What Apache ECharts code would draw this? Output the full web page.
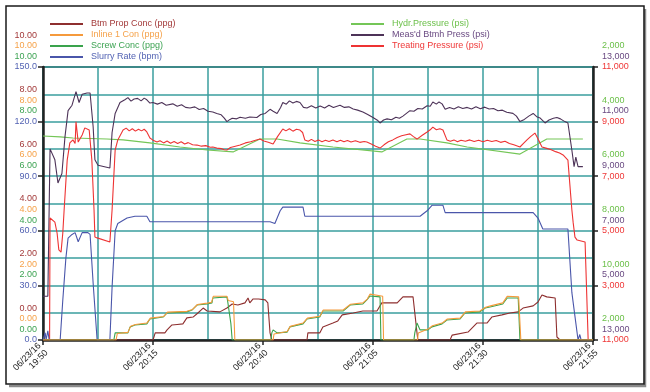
<!DOCTYPE html>
<html><head><meta charset="utf-8">
<script src="https://cdn.jsdelivr.net/npm/echarts@6/dist/echarts.min.js"></script>
<style>html,body{margin:0;padding:0;background:#fff}#c{width:650px;height:392px}</style>
</head><body><div id="c"></div>
<script>
// ---- data (time = minutes after 06/23/16 19:50) ----
const xDates = ['06/23/16','06/23/16','06/23/16','06/23/16','06/23/16','06/23/16'];
const xTimes = ['19:50','20:15','20:40','21:05','21:30','21:55'];

const ppgLabels = ['0.00','2.00','4.00','6.00','8.00','10.00'];
const bpmLabels = ['0.0','30.0','60.0','90.0','120.0','150.0'];
const hydrLabels = ['2,000','10,000','8,000','6,000','4,000','2,000'];
const btmhLabels = ['13,000','5,000','7,000','9,000','11,000','13,000'];
const treatLabels = ['11,000','3,000','5,000','7,000','9,000','11,000'];

const btmPropConc = [[0,0],[25.0,0],[25.5,0.26],[27.7,0.26],[28.2,0.37],[29.3,0.55],[30.5,0.57],[31.8,0.59],[32.7,0.81],[34.1,0.84],[35.2,0.99],[36.4,1.17],[37.3,1.06],[40.2,1.03],[41.8,1.17],[43.0,1.32],[44.3,1.28],[45.9,1.36],[46.6,1.54],[47.0,1.36],[47.7,1.50],[49.0,1.50],[50.5,1.47],[51.1,1.36],[51.6,0.26],[52.0,0],[60.0,0],[60.2,0.26],[62.9,0.26],[63.6,0.48],[65.9,0.62],[67.0,0.70],[68.0,0.92],[70.5,0.99],[72.7,1.06],[75.9,1.06],[77.0,1.36],[80.5,1.36],[81.8,1.58],[84.1,1.58],[85.0,0.26],[85.2,0],[92.5,0],[93.0,0.18],[96.6,0.29],[98.6,0.62],[100.9,0.62],[102.0,0.84],[104.3,0.92],[106.1,0.99],[108.0,1.03],[109.1,1.17],[111.4,1.25],[112.5,1.39],[113.4,1.65],[114.5,1.58],[116.4,1.54],[116.8,0.11],[117.5,0],[125,0]];
const inline1Con = [[0,0],[16.6,0],[16.9,0.24],[19.3,0.28],[19.9,0.5],[21.0,0.57],[23.6,0.62],[24.4,0.8],[27.4,0.86],[28.3,1.02],[32.7,1.05],[34.0,1.12],[35.1,1.3],[37.3,1.35],[38.3,1.38],[38.7,1.6],[41.8,1.6],[42.1,1.45],[43.3,1.4],[43.6,0],[52.3,0],[52.5,0.22],[55.5,0.31],[56.2,0.5],[59.1,0.62],[60.1,0.8],[62.9,0.87],[63.7,1.1],[68.2,1.1],[69.9,1.31],[72.7,1.36],[73.7,1.5],[74.3,1.68],[76.6,1.62],[77.2,1.6],[77.4,0],[85.1,0],[85.3,0.26],[87.5,0.4],[88.5,0.52],[90.7,0.62],[91.9,0.77],[94.8,0.8],[96.0,1.03],[99.3,1.06],[100.6,1.2],[101.7,1.25],[104.5,1.36],[105.5,1.6],[108.1,1.58],[108.6,0],[125,0]];
const screwConc = [[0,0],[16.1,0],[16.4,0.26],[19.3,0.26],[19.8,0.48],[20.9,0.55],[23.6,0.59],[24.3,0.77],[27.3,0.84],[28.2,0.99],[32.7,1.03],[33.9,1.10],[35.0,1.28],[37.3,1.32],[38.4,1.36],[38.6,1.54],[41.8,1.58],[42.0,1.39],[42.7,0.6],[43.0,0],[51.8,0],[52.0,0.26],[52.3,0.37],[53.2,0.26],[55.5,0.29],[56.1,0.48],[59.1,0.59],[60.0,0.77],[62.9,0.84],[63.6,1.06],[68.2,1.06],[69.8,1.28],[72.7,1.32],[73.6,1.47],[74.3,1.61],[76.6,1.58],[76.8,0],[84.3,0],[84.5,0.26],[85.0,0.62],[85.7,0.37],[87.5,0.37],[88.4,0.48],[90.7,0.59],[91.8,0.73],[94.8,0.77],[95.9,0.99],[99.3,1.03],[100.5,1.17],[101.6,1.21],[104.5,1.32],[105.5,1.54],[108.0,1.54],[108.4,0],[125,0]];
const slurryRate = [[0,0],[0.5,4],[0.7,0],[1.1,5],[1.4,0],[3.9,0],[4.5,22],[5.2,45],[5.7,56],[6.6,58],[7.3,59],[8.0,54],[8.9,59],[10.2,59],[10.7,58],[11.4,31],[12.3,0],[15.2,0],[15.7,29],[16.4,60],[17.0,64],[19.1,67],[20.9,68],[23.6,68],[24.3,65],[51.6,65],[52.7,64],[53.9,71],[54.5,73],[59.1,73],[59.5,68],[85.7,68],[87.3,71],[88.4,74],[90.9,74],[91.4,70],[111.4,70],[112.5,67],[113.6,61],[119.3,61],[120.2,26],[120.9,13],[121.6,0],[122.0,3],[122.3,0],[125,0]];
const hydrPressure = [[0,4530],[3.9,4560],[6.8,4600],[14.5,4640],[18.2,4670],[24.3,4780],[31.1,4930],[37.3,5040],[43.2,5110],[49.3,4640],[53.2,4640],[58.4,4780],[65.9,4930],[77.0,5110],[82.7,4640],[85.7,4640],[91.8,4780],[96.4,4930],[108.4,5190],[114.5,4640],[122.7,4640]];
const btmhPress = [[0,4600],[1.1,4600],[1.6,10000],[2.0,10000],[2.7,9600],[3.4,8750],[4.3,9100],[5.0,10450],[5.7,11400],[6.6,11600],[7.5,12100],[8.2,11700],[8.9,12000],[10.0,12050],[10.7,12050],[11.4,10800],[11.8,9600],[12.5,9400],[15.2,9300],[15.7,10600],[16.4,11300],[17.5,11700],[18.6,11800],[19.3,11880],[20.0,11750],[20.7,11830],[21.5,11850],[22.3,11760],[23.0,11860],[23.6,11800],[24.3,11680],[25.0,11700],[26.0,11640],[27.0,11700],[28.0,11600],[29.5,11650],[30.5,11560],[31.5,11620],[32.4,11520],[33.4,11500],[34.5,11540],[35.5,11440],[36.5,11480],[37.5,11380],[38.6,11350],[39.5,11300],[40.5,11250],[41.2,11130],[41.8,11000],[42.5,11080],[43.0,11120],[44.0,11100],[44.8,11160],[46.0,11120],[47.0,11170],[48.6,11150],[49.5,11260],[50.5,11300],[51.6,11450],[52.3,11380],[53.2,11300],[54.0,11520],[54.5,11700],[55.3,11640],[56.0,11760],[56.8,11680],[57.6,11740],[58.4,11700],[59.2,11520],[60.0,11500],[61.0,11580],[62.0,11500],[63.0,11570],[64.0,11500],[65.0,11600],[66.0,11520],[67.5,11600],[68.5,11520],[69.5,11540],[70.5,11460],[71.5,11420],[72.7,11350],[73.8,11260],[75.0,11150],[76.0,11050],[76.6,10950],[77.4,11060],[78.2,11100],[79.2,11070],[80.2,11160],[81.0,11120],[81.8,11200],[82.6,11300],[83.4,11400],[84.3,11380],[85.2,11480],[86.2,11460],[87.3,11580],[88.0,11560],[88.6,11720],[89.4,11640],[90.0,11720],[90.7,11650],[91.4,11450],[92.4,11520],[93.4,11460],[94.4,11540],[95.4,11480],[96.4,11520],[97.4,11460],[98.4,11540],[99.4,11470],[100.4,11530],[101.4,11460],[102.4,11480],[103.4,11400],[104.4,11420],[105.4,11340],[106.8,11300],[107.6,11200],[108.4,11000],[109.4,11080],[110.4,11200],[111.4,11300],[112.2,11180],[113.0,11130],[114.1,10950],[115.0,11060],[116.0,11120],[116.8,11150],[117.6,11100],[118.6,11000],[119.3,10950],[120.2,9950],[120.7,9350],[121.1,9700],[121.6,9350],[122.7,9350]];
const treatingPressure = [[0,1000],[1.5,1000],[1.6,5470],[2.0,5470],[2.7,5320],[3.2,4920],[3.6,4300],[4.1,4220],[4.5,4920],[4.8,5760],[5.5,7590],[6.1,8220],[6.8,8330],[7.3,8200],[7.5,8990],[8.0,8250],[8.9,8510],[9.5,8770],[10.5,8690],[11.1,7590],[11.6,5760],[11.8,4770],[12.3,4740],[15.2,4590],[15.6,4600],[15.7,5760],[16.4,7960],[17.0,8330],[18.2,8690],[18.9,8760],[19.6,8660],[20.3,8740],[21.0,8650],[21.7,8720],[22.4,8660],[23.0,8720],[23.6,8620],[24.3,8400],[25.0,8320],[25.9,8250],[26.6,8300],[27.4,8220],[28.2,8290],[29.0,8210],[29.8,8270],[30.6,8200],[31.4,8260],[32.2,8180],[33.0,8230],[34.0,8150],[35.0,8140],[36.0,8100],[37.0,8120],[38.0,8060],[38.6,8070],[39.5,8030],[40.5,8010],[41.2,7970],[41.8,7960],[42.6,8050],[43.5,8090],[44.8,8140],[46.0,8220],[47.2,8260],[48.3,8320],[49.3,8360],[50.2,8290],[51.2,8240],[52.3,8180],[53.3,8450],[54.5,8730],[55.2,8660],[56.0,8740],[56.8,8650],[57.6,8720],[58.4,8690],[59.0,8600],[59.5,8330],[60.3,8280],[61.0,8350],[61.8,8270],[62.6,8330],[63.4,8260],[64.2,8320],[65.0,8270],[65.9,8330],[66.8,8260],[67.6,8320],[68.4,8260],[69.2,8310],[70.0,8250],[71.0,8300],[72.0,8240],[73.0,8270],[73.6,8250],[74.6,8180],[75.6,8100],[76.6,8030],[77.5,8150],[78.5,8260],[79.5,8330],[80.5,8420],[81.5,8480],[82.5,8520],[83.4,8550],[84.2,8450],[85.0,8360],[86.2,8500],[87.3,8620],[88.0,8700],[88.6,8800],[89.4,8700],[90.2,8740],[90.9,8690],[91.8,8330],[92.6,8280],[93.4,8330],[94.2,8260],[95.0,8320],[96.0,8280],[97.0,8330],[98.0,8270],[99.0,8320],[100.0,8260],[101.0,8320],[102.0,8270],[103.0,8310],[104.0,8240],[105.0,8280],[106.0,8200],[107.0,8150],[108.4,8070],[109.2,8200],[110.0,8330],[110.8,8450],[111.8,8580],[112.4,8400],[113.4,8070],[114.5,8020],[115.5,7970],[116.5,7900],[117.4,7850],[118.2,7780],[119.3,7590],[120.2,5760],[120.5,5290],[120.9,4770],[121.4,4660],[123.2,4590],[123.6,4550],[123.9,1000]];

// ---- colours / styles ----
const C = {btm:'#8e2f2f', inl:'#f59a3c', scr:'#3aa34c', slu:'#4a56aa', hyd:'#74c657', mbp:'#4d3358', trp:'#ee3333'};
const LC = {btm:'#a33a3a', inl:'#f5a24a', scr:'#3da353', slu:'#5262b3', hyd:'#6cc04a', mbp:'#6a4a82', trp:'#ef3838'};
const FONT = "'Liberation Sans',Arial,sans-serif";
const FS = 9;
const GRID = '#3a9e9e';
const LH = 10.6;

function leftLabel(v){
  const i = Math.round(v/30);
  if (Math.abs(v - i*30) > 0.01) return '';
  return '{r|'+ppgLabels[i]+'}\n{o|'+ppgLabels[i]+'}\n{g|'+ppgLabels[i]+'}\n{b|'+bpmLabels[i]+'}\n{s| }\n{s| }\n{s| }';
}
function rightLabel(v){
  const i = Math.round((v-1000)/2000);
  return '{g|'+hydrLabels[i]+'}\n{p|'+btmhLabels[i]+'}\n{r|'+treatLabels[i]+'}\n{s| }\n{s| }';
}
const rs = (c)=>({color:c, fontFamily:FONT, fontSize:FS, lineHeight:LH});

const chart = echarts.init(document.getElementById('c'), null, {renderer:'canvas'});
const lineS = (name, data, color, xi, yi, z) => ({
  name, type:'line', data, xAxisIndex:xi, yAxisIndex:yi, showSymbol:false, symbol:'none',
  lineStyle:{color, width:1.1}, itemStyle:{color}, animation:false, z:z||2, silent:true
});
const legendText = {fontFamily:FONT, fontSize:FS, lineHeight:11, padding:[0,0,0,3]};

chart.setOption({
  animation:false,
  backgroundColor:'#fff',
  textStyle:{fontFamily:FONT},
  graphic:[
    {type:'polyline', shape:{points:[[645,9],[645,386],[9,386]]}, style:{stroke:'#8a8a8a', lineWidth:2.5, fill:null}, z:0},
    {type:'rect', shape:{x:6,y:6,width:638,height:378}, style:{stroke:'#1a1a1a', lineWidth:1.5, fill:null}, z:0}
  ],
  legend:[
    {left:50, top:18.5, padding:0, orient:'vertical', icon:'rect', itemWidth:33, itemHeight:2, itemGap:0,
     textStyle:legendText, selectedMode:false,
     data:[
      {name:'Btm Prop Conc (ppg)', textStyle:{color:LC.btm}},
      {name:'Inline 1 Con (ppg)', textStyle:{color:LC.inl}},
      {name:'Screw Conc (ppg)', textStyle:{color:LC.scr}},
      {name:'Slurry Rate (bpm)', textStyle:{color:LC.slu}}]},
    {left:351, top:18.5, padding:0, orient:'vertical', icon:'rect', itemWidth:33, itemHeight:2, itemGap:0,
     textStyle:legendText, selectedMode:false,
     data:[
      {name:'Hydr.Pressure (psi)', textStyle:{color:LC.hyd}},
      {name:"Meas'd Btmh Press (psi)", textStyle:{color:LC.mbp}},
      {name:'Treating Pressure (psi)', textStyle:{color:LC.trp}}]}
  ],
  grid:{left:43, right:57, top:67, bottom:52, show:true, borderColor:'#111', borderWidth:1.5, backgroundColor:'transparent'},
  xAxis:[
    {type:'value', min:0, max:125, interval:12.5, position:'bottom',
     axisLine:{show:true, onZero:false, lineStyle:{color:'#222', width:2.5}}, axisTick:{show:false}, axisLabel:{show:false},
     splitLine:{show:true, lineStyle:{color:GRID, width:1.5}}},
    {type:'value', min:0, max:125, interval:25, position:'bottom',
     axisLine:{show:false, onZero:false}, axisTick:{show:true, length:5, lineStyle:{color:'#222', width:1.5}},
     splitLine:{show:false},
     axisLabel:{show:true, rotate:45, margin:8, fontFamily:FONT, fontSize:FS, color:'#222', lineHeight:10, align:'right',
       formatter:(v)=>{const i=Math.round(v/25); return xDates[i]+'\n'+xTimes[i];}}}
  ],
  yAxis:[
    {type:'value', min:0, max:150, interval:15, position:'left',
     axisLine:{show:true, onZero:false, lineStyle:{color:'#222', width:2.5}}, axisTick:{show:false}, axisLabel:{show:false},
     splitLine:{show:true, lineStyle:{color:GRID, width:1.5}}},
    {type:'value', min:0, max:150, interval:15, position:'left',
     axisLine:{show:false}, axisTick:{show:false}, splitLine:{show:false},
     axisLabel:{show:true, margin:6, align:'right', formatter:leftLabel,
       rich:{r:rs(LC.btm), o:rs(LC.inl), g:rs(LC.scr), b:rs(LC.slu), s:rs('#fff')}}},
    {type:'value', min:0, max:10, show:false},
    {type:'value', min:1000, max:11000, interval:2000, position:'right',
     axisLine:{show:true, onZero:false, lineStyle:{color:'#222', width:2.5}},
     axisTick:{show:true, length:5, lineStyle:{color:'#222', width:1.5}}, splitLine:{show:false},
     axisLabel:{show:true, margin:9, align:'left', formatter:rightLabel,
       rich:{g:rs(LC.hyd), p:rs(LC.mbp), r:rs(LC.trp), s:rs('#fff')}}},
    {type:'value', min:3000, max:13000, show:false},
    {type:'value', min:2000, max:12000, inverse:true, show:false},
    {type:'value', min:0, max:150, interval:30, position:'left',
     axisLine:{show:false}, axisLabel:{show:false}, splitLine:{show:false},
     axisTick:{show:true, length:5, lineStyle:{color:'#222', width:1.5}}}
  ],
  series:[
    lineS('Hydr.Pressure (psi)', hydrPressure, C.hyd, 0, 5, 2),
    lineS("Meas'd Btmh Press (psi)", btmhPress, C.mbp, 0, 4, 3),
    lineS('Treating Pressure (psi)', treatingPressure, C.trp, 0, 3, 4),
    lineS('Slurry Rate (bpm)', slurryRate, C.slu, 0, 1, 5),
    lineS('Btm Prop Conc (ppg)', btmPropConc, C.btm, 0, 2, 6),
    lineS('Screw Conc (ppg)', screwConc, C.scr, 0, 2, 7),
    lineS('Inline 1 Con (ppg)', inline1Con, C.inl, 0, 2, 8)
  ]
});
</script></body></html>
